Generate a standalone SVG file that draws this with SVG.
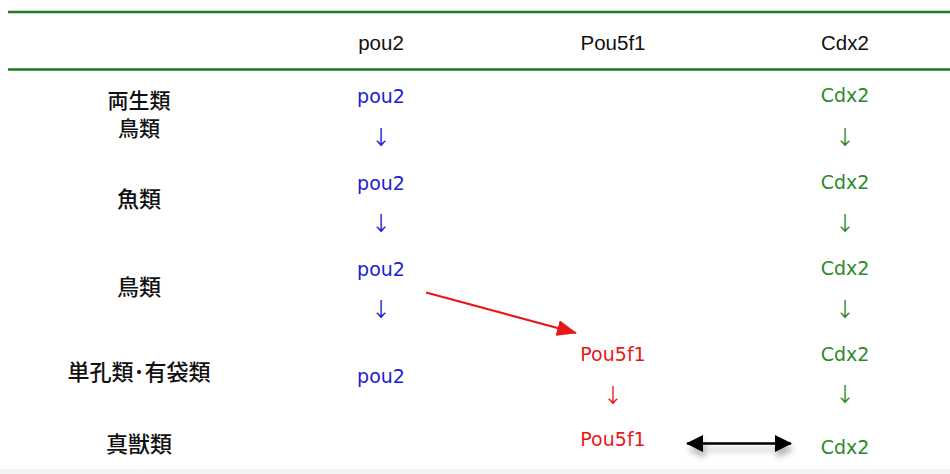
<svg xmlns="http://www.w3.org/2000/svg" width="950" height="474" viewBox="0 0 950 474">
<style>
.h{font-family:"Liberation Sans",Arial,sans-serif;font-size:20.5px;fill:#111;text-anchor:middle}
.lbl{font-family:"Noto Sans CJK JP","Noto Sans CJK SC",sans-serif;font-size:22px;font-weight:500;fill:#111;text-anchor:middle}
.sm{font-size:21px}
.g{font-family:"DejaVu Sans",sans-serif;font-size:19px;text-anchor:middle}
.blue{fill:#2020d0}
.green{fill:#2a8a2a}
.red{fill:#e81818}
.ar{font-family:"Noto Sans CJK JP",sans-serif;font-size:20px;text-anchor:middle}
</style>
<defs>
<marker id="redHead" viewBox="0 0 20 16" refX="19" refY="8" markerWidth="20" markerHeight="16" orient="auto" markerUnits="userSpaceOnUse"><path d="M0,0 L20,8 L0,16 z" fill="#e81818"/></marker>
<marker id="blkHead" viewBox="0 0 17 17" refX="16" refY="8.5" markerWidth="17" markerHeight="17" orient="auto-start-reverse" markerUnits="userSpaceOnUse"><path d="M0,0 L17,8.5 L0,17 z" fill="#000"/></marker>
<filter id="sh" filterUnits="userSpaceOnUse" x="660" y="420" width="160" height="50"><feGaussianBlur in="SourceAlpha" stdDeviation="3"/><feOffset dx="2" dy="6"/><feComponentTransfer><feFuncA type="linear" slope="0.3"/></feComponentTransfer><feMerge><feMergeNode/><feMergeNode in="SourceGraphic"/></feMerge></filter>
</defs>
<rect width="950" height="474" fill="#fff"/>
<rect x="0" y="469" width="950" height="5" fill="#f3f3f3"/>
<g id="header">
<line x1="8" y1="12" x2="950" y2="12" stroke="#1e7a1e" stroke-width="2.5"/>
<line x1="8" y1="69.5" x2="950" y2="69.5" stroke="#1e7a1e" stroke-width="2.5"/>
<text class="h" x="381" y="49.5">pou2</text>
<text class="h" x="613" y="49.5">Pou5f1</text>
<text class="h" x="845" y="49.5">Cdx2</text>
</g>
<g id="labels">
<text class="lbl sm" x="139" y="108">両生類</text>
<text class="lbl sm" x="139" y="136">鳥類</text>
<text class="lbl" x="139" y="207">魚類</text>
<text class="lbl" x="139" y="295">鳥類</text>
<text class="lbl" x="139" y="380">単孔類･有袋類</text>
<text class="lbl" x="139" y="452">真獣類</text>
</g>
<g id="pou2-col">
<text class="g blue" x="381" y="103">pou2</text>
<text class="ar blue" x="381" y="145">↓</text>
<text class="g blue" x="381" y="189.5">pou2</text>
<text class="ar blue" x="381" y="231">↓</text>
<text class="g blue" x="381" y="276">pou2</text>
<text class="ar blue" x="381" y="317">↓</text>
<text class="g blue" x="381" y="383">pou2</text>
</g>
<g id="pou5f1-col">
<text class="g red" x="613" y="360.5">Pou5f1</text>
<text class="ar red" x="613" y="403">↓</text>
<text class="g red" x="613" y="446">Pou5f1</text>
</g>
<g id="cdx2-col">
<text class="g green" x="845" y="102">Cdx2</text>
<text class="ar green" x="845" y="145">↓</text>
<text class="g green" x="845" y="189">Cdx2</text>
<text class="ar green" x="845" y="231">↓</text>
<text class="g green" x="845" y="275">Cdx2</text>
<text class="ar green" x="845" y="317">↓</text>
<text class="g green" x="845" y="360.5">Cdx2</text>
<text class="ar green" x="845" y="402">↓</text>
<text class="g green" x="845" y="454">Cdx2</text>
</g>
<g id="connectors">
<line x1="426" y1="292.5" x2="576" y2="333" stroke="#e81818" stroke-width="2.2" marker-end="url(#redHead)"/>
<g filter="url(#sh)">
<line x1="687" y1="443.5" x2="791" y2="443.5" stroke="#000" stroke-width="2.6" marker-start="url(#blkHead)" marker-end="url(#blkHead)"/>
</g>
</g>
</svg>
